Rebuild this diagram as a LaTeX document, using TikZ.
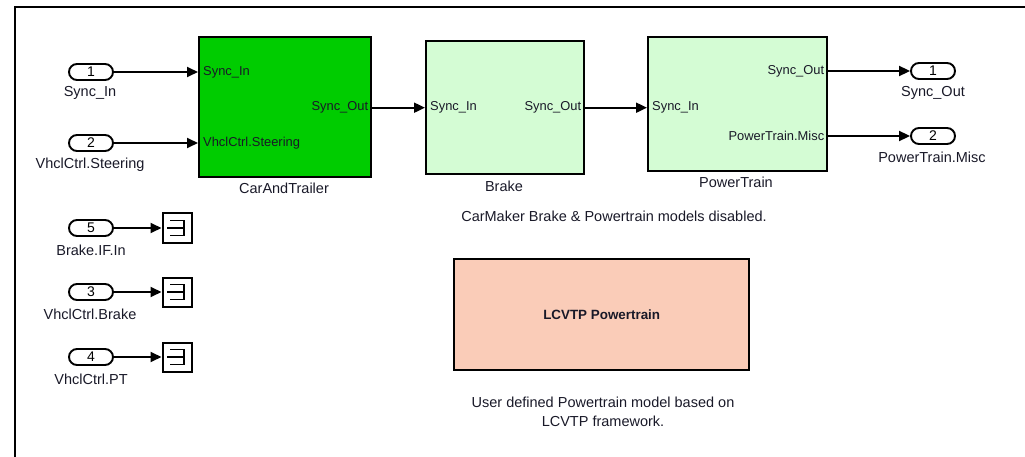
\documentclass[tikz,border=0pt]{standalone}
\usepackage{fontspec}
\setmainfont{Liberation Sans}
\usetikzlibrary{arrows.meta,shapes.misc}
\definecolor{blockgreen}{RGB}{0,204,0}
\definecolor{palegreen}{RGB}{212,252,212}
\definecolor{salmon}{RGB}{250,204,184}
\definecolor{labelink}{RGB}{25,25,40}

\begin{document}
\begin{tikzpicture}[x=1pt,y=-1pt,
  port/.style={rounded rectangle, draw, line width=1.9pt, minimum width=44pt,
    minimum height=16pt, inner sep=0pt, font=\fontsize{14}{14}\selectfont},
  block/.style={draw, line width=2.4pt, anchor=north west, inner sep=0pt},
  wire/.style={line width=1.9pt, -{Triangle[length=11pt,width=10pt]}},
  lbl/.style={font=\fontsize{14.5}{17}\selectfont, inner sep=0pt, text=labelink},
  plbl/.style={font=\fontsize{12.9}{13}\selectfont, inner sep=0pt, text=labelink},
  term/.style={draw, line width=2pt, minimum size=29pt, inner sep=0pt},
  termglyph/.style={line width=1.8pt}
]
\useasboundingbox (0,0) rectangle (1025,457);

% subsystem frame
\draw[line width=1.6pt] (15,457) -- (15,7) -- (1025,7);

% main subsystem blocks
\node[block, fill=blockgreen, minimum width=172pt, minimum height=140pt] (cat) at (198,36) {};
\node[block, fill=palegreen, minimum width=158pt, minimum height=133pt] (brake) at (425,40) {};
\node[block, fill=palegreen, minimum width=179pt, minimum height=134pt] (pt) at (647,36) {};
\node[block, fill=salmon, minimum width=295pt, minimum height=111pt] (lcvtp) at (453,258) {};
\node[font=\bfseries\fontsize{13.4}{14}\selectfont, text=labelink] at (lcvtp.center) {LCVTP Powertrain};

% block names
\node[lbl] at (284,188) {CarAndTrailer};
\node[lbl] at (504,186) {Brake};
\node[lbl] at (736,182) {PowerTrain};

% inports
\node[port] (in1) at (91,72) {1};
\node[port] (in2) at (91,143) {2};
\node[port] (in5) at (91,228) {5};
\node[port] (in3) at (91,292) {3};
\node[port] (in4) at (91,357) {4};
\node[lbl] at (90,93) {Sync\_In};
\node[lbl] at (90,165) {VhclCtrl.Steering};
\node[lbl] at (91,250) {Brake.IF.In};
\node[lbl] at (90,314) {VhclCtrl.Brake};
\node[lbl] at (91,379) {VhclCtrl.PT};

% outports
\node[port] (out1) at (933,71) {1};
\node[port] (out2) at (933,136) {2};
\node[lbl] at (933,93) {Sync\_Out};
\node[lbl] at (932,157) {PowerTrain.Misc};

% terminators
\foreach \n/\y in {t5/228, t3/292, t4/357}{
  \node[term] (\n) at (177,\y) {};
  \draw[termglyph] ([shift={(-7,-7.5)}]\n.center) -- ([shift={(7,-7.5)}]\n.center)
    -- ([shift={(7,7.5)}]\n.center) -- ([shift={(-7,7.5)}]\n.center);
  \draw[termglyph] ([shift={(-10,0)}]\n.center) -- ([shift={(7,0)}]\n.center);
}

% port labels inside blocks
\node[plbl, anchor=west] at ([xshift=5pt]cat.west |- in1) {Sync\_In};
\node[plbl, anchor=west] at ([xshift=5pt]cat.west |- in2) {VhclCtrl.Steering};
\node[plbl, anchor=east] at ([xshift=-4pt]cat.east |- brake.west) {Sync\_Out};
\node[plbl, anchor=west] at ([xshift=5pt]brake.west) {Sync\_In};
\node[plbl, anchor=east] at ([xshift=-4pt]brake.east) {Sync\_Out};
\node[plbl, anchor=west] at ([xshift=5pt]pt.west |- brake.east) {Sync\_In};
\node[plbl, anchor=east] at ([xshift=-4pt]pt.east |- out1) {Sync\_Out};
\node[plbl, anchor=east] at ([xshift=-4pt]pt.east |- out2) {PowerTrain.Misc};

% signal lines
\draw[wire] (in1.east) -- (in1.east -| cat.west);
\draw[wire] (in2.east) -- (in2.east -| cat.west);
\draw[wire] (cat.east |- brake.west) -- (brake.west);
\draw[wire] (brake.east) -- (brake.east -| pt.west);
\draw[wire] (pt.east |- out1) -- (out1.west);
\draw[wire] (pt.east |- out2) -- (out2.west);
\draw[wire] (in5.east) -- (t5.west);
\draw[wire] (in3.east) -- (t3.west);
\draw[wire] (in4.east) -- (t4.west);

% annotations
\node[lbl] at (614,216) {CarMaker Brake \& Powertrain models disabled.};
\node[lbl, align=center] at (603,412) {User defined Powertrain model based on\\[2pt]LCVTP framework.};
\end{tikzpicture}
\end{document}
